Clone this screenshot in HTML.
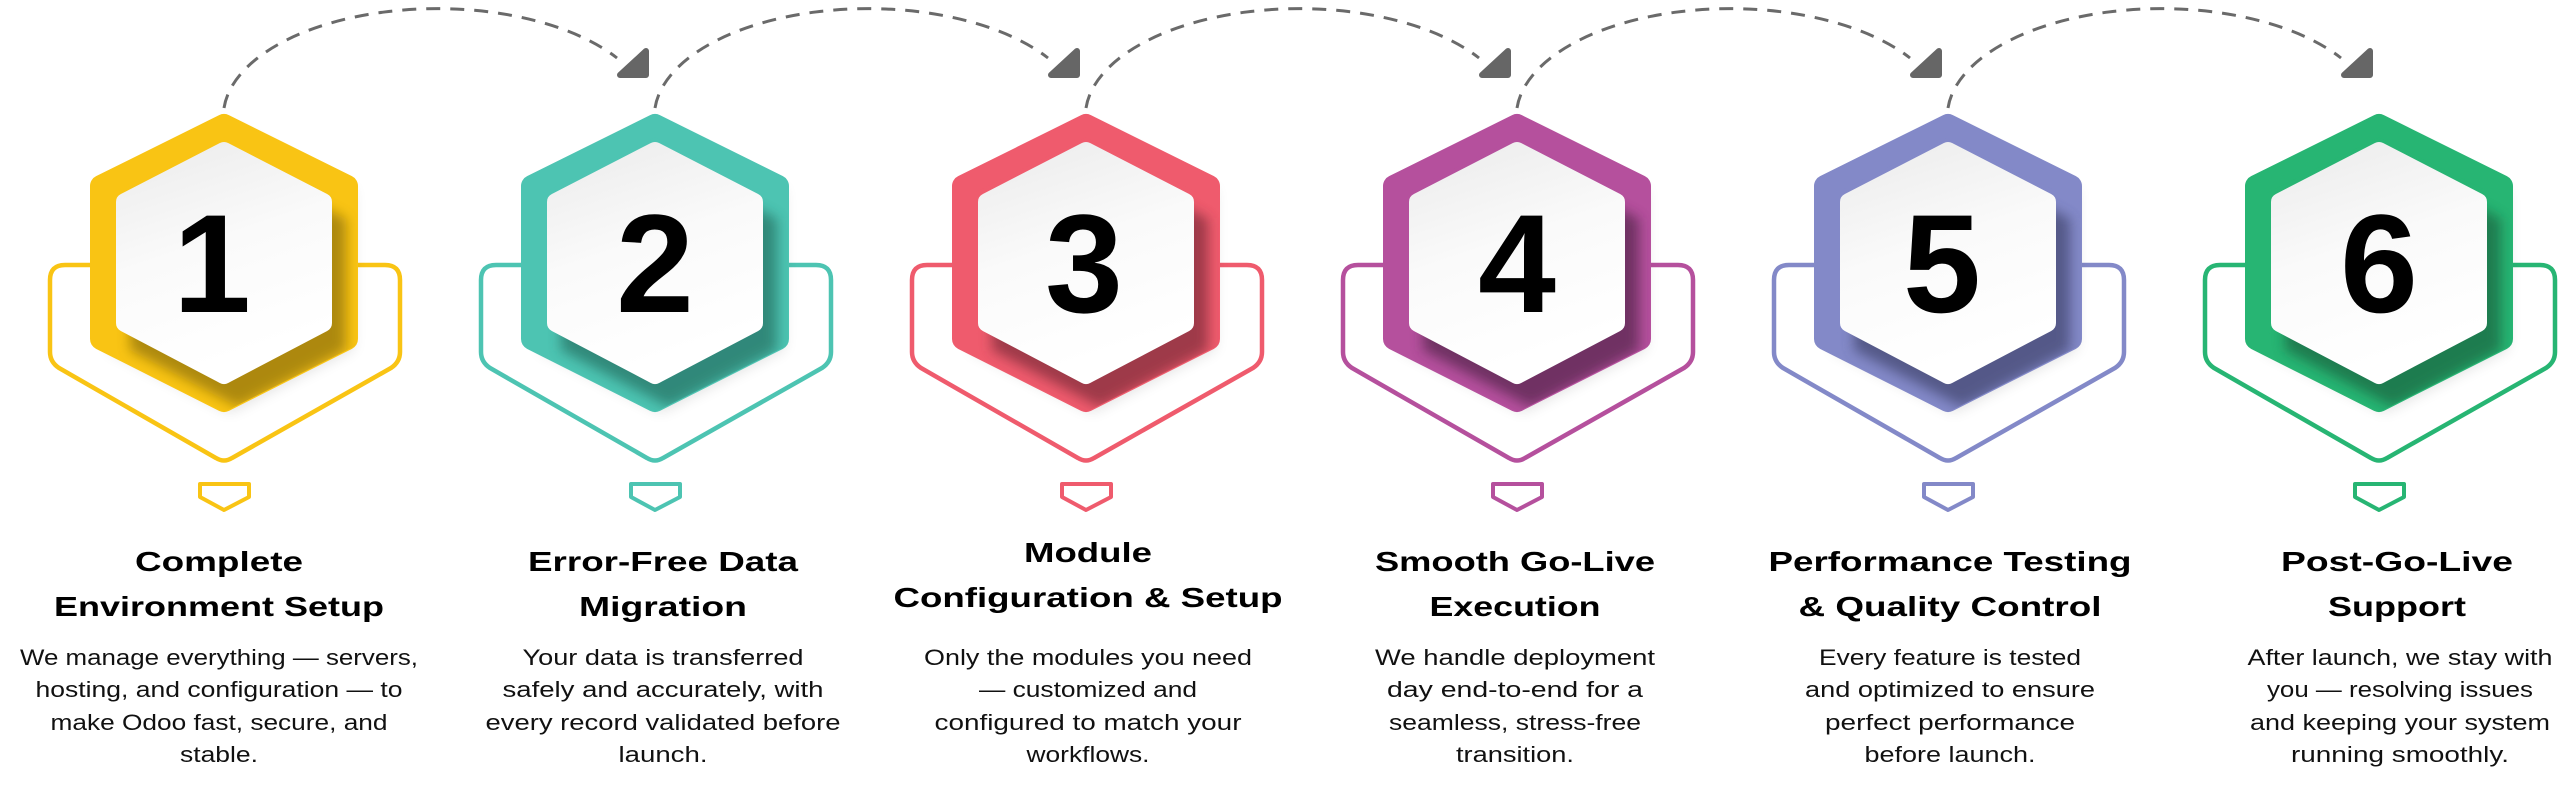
<!DOCTYPE html>
<html><head><meta charset="utf-8"><style>
html,body{margin:0;padding:0;background:#fff;}
svg{display:block;}
.t{font-family:"Liberation Sans",Arial,sans-serif;font-weight:bold;font-size:28px;fill:#000;text-anchor:middle;}
.b{font-family:"Liberation Sans",Arial,sans-serif;font-size:22px;fill:#111;text-anchor:middle;}
.n{font-family:"Liberation Sans",Arial,sans-serif;font-weight:bold;font-size:140px;fill:#000;text-anchor:middle;}
.arc{fill:none;stroke:#6a6a6a;stroke-width:3;stroke-dasharray:14 10;}
.ah{fill:#666;stroke:#666;stroke-width:6;stroke-linejoin:round;}
</style></head><body>
<svg width="2560" height="786" viewBox="0 0 2560 786" xmlns="http://www.w3.org/2000/svg">
<defs>
<filter id="bl" x="-30%" y="-30%" width="160%" height="160%"><feGaussianBlur stdDeviation="6"/></filter>
<filter id="ds" x="-30%" y="-30%" width="160%" height="160%"><feGaussianBlur stdDeviation="7"/></filter>
<clipPath id="oc"><polygon points="0,114 133,180 133,345 0,412 -133,345 -133,180"/></clipPath>
<linearGradient id="wg" x1="0" y1="0" x2="0.3" y2="1"><stop offset="0" stop-color="#ececec"/><stop offset="0.5" stop-color="#fafafa"/><stop offset="1" stop-color="#ffffff"/></linearGradient>
<g id="inner">
<polygon points="0,151 99,202 99,323 0,375 -99,323 -99,202" fill="url(#wg)" stroke="url(#wg)" stroke-width="18" stroke-linejoin="round"/>
</g>
</defs>

<g>
<path class="arc" d="M224 108 A214 108 0 0 1 617 58"/>
<polygon class="ah" points="646,51 646,75 620,75"/>
<path class="arc" d="M655 108 A214 108 0 0 1 1048 58"/>
<polygon class="ah" points="1077,51 1077,75 1051,75"/>
<path class="arc" d="M1086 108 A214 108 0 0 1 1479 58"/>
<polygon class="ah" points="1508,51 1508,75 1482,75"/>
<path class="arc" d="M1517 108 A214 108 0 0 1 1910 58"/>
<polygon class="ah" points="1939,51 1939,75 1913,75"/>
<path class="arc" d="M1948 108 A214 108 0 0 1 2341 58"/>
<polygon class="ah" points="2370,51 2370,75 2344,75"/>
</g>

<g transform="translate(224,0)">
<path d="M -133 265 H -159 Q -174 265 -174 280 V 352 Q -174 362 -165 368 L -8 458 Q 0 463 8 458 L 167 368 Q 176 362 176 352 V 280 Q 176 265 161 265 H 133" fill="none" stroke="#F9C414" stroke-width="4.5"/>
<polygon points="6,128 129,190 129,349 6,412 -117,349" fill="#000" opacity="0.12" filter="url(#ds)"/>
<polygon points="0,125 123,186 123,339 0,401 -123,339 -123,186" fill="#F9C414" stroke="#F9C414" stroke-width="22" stroke-linejoin="round"/>
<g clip-path="url(#oc)"><polygon points="14,163 122,219 122,350 14,407 -94,350 -94,219" fill="#9a7a10" opacity="0.8" filter="url(#bl)"/></g>
<use href="#inner"/>
<text class="n" x="-12" y="312">1</text>
<path d="M -24 484 H 25 V 497 L 0 510 L -24 497 Z" fill="none" stroke="#F9C414" stroke-width="4" stroke-linejoin="round"/>
</g>

<g transform="translate(655,0)">
<path d="M -133 265 H -159 Q -174 265 -174 280 V 352 Q -174 362 -165 368 L -8 458 Q 0 463 8 458 L 167 368 Q 176 362 176 352 V 280 Q 176 265 161 265 H 133" fill="none" stroke="#4DC4B2" stroke-width="4.5"/>
<polygon points="6,128 129,190 129,349 6,412 -117,349" fill="#000" opacity="0.12" filter="url(#ds)"/>
<polygon points="0,125 123,186 123,339 0,401 -123,339 -123,186" fill="#4DC4B2" stroke="#4DC4B2" stroke-width="22" stroke-linejoin="round"/>
<g clip-path="url(#oc)"><polygon points="14,163 122,219 122,350 14,407 -94,350 -94,219" fill="#2a7a6c" opacity="0.8" filter="url(#bl)"/></g>
<use href="#inner"/>
<text class="n" x="0" y="312">2</text>
<path d="M -24 484 H 25 V 497 L 0 510 L -24 497 Z" fill="none" stroke="#4DC4B2" stroke-width="4" stroke-linejoin="round"/>
</g>

<g transform="translate(1086,0)">
<path d="M -133 265 H -159 Q -174 265 -174 280 V 352 Q -174 362 -165 368 L -8 458 Q 0 463 8 458 L 167 368 Q 176 362 176 352 V 280 Q 176 265 161 265 H 133" fill="none" stroke="#EF5B6D" stroke-width="4.5"/>
<polygon points="6,128 129,190 129,349 6,412 -117,349" fill="#000" opacity="0.12" filter="url(#ds)"/>
<polygon points="0,125 123,186 123,339 0,401 -123,339 -123,186" fill="#EF5B6D" stroke="#EF5B6D" stroke-width="22" stroke-linejoin="round"/>
<g clip-path="url(#oc)"><polygon points="14,163 122,219 122,350 14,407 -94,350 -94,219" fill="#8a3340" opacity="0.8" filter="url(#bl)"/></g>
<use href="#inner"/>
<text class="n" x="-2" y="312">3</text>
<path d="M -24 484 H 25 V 497 L 0 510 L -24 497 Z" fill="none" stroke="#EF5B6D" stroke-width="4" stroke-linejoin="round"/>
</g>

<g transform="translate(1517,0)">
<path d="M -133 265 H -159 Q -174 265 -174 280 V 352 Q -174 362 -165 368 L -8 458 Q 0 463 8 458 L 167 368 Q 176 362 176 352 V 280 Q 176 265 161 265 H 133" fill="none" stroke="#B5509D" stroke-width="4.5"/>
<polygon points="6,128 129,190 129,349 6,412 -117,349" fill="#000" opacity="0.12" filter="url(#ds)"/>
<polygon points="0,125 123,186 123,339 0,401 -123,339 -123,186" fill="#B5509D" stroke="#B5509D" stroke-width="22" stroke-linejoin="round"/>
<g clip-path="url(#oc)"><polygon points="14,163 122,219 122,350 14,407 -94,350 -94,219" fill="#5e2a55" opacity="0.8" filter="url(#bl)"/></g>
<use href="#inner"/>
<text class="n" x="0" y="312">4</text>
<path d="M -24 484 H 25 V 497 L 0 510 L -24 497 Z" fill="none" stroke="#B5509D" stroke-width="4" stroke-linejoin="round"/>
</g>

<g transform="translate(1948,0)">
<path d="M -133 265 H -159 Q -174 265 -174 280 V 352 Q -174 362 -165 368 L -8 458 Q 0 463 8 458 L 167 368 Q 176 362 176 352 V 280 Q 176 265 161 265 H 133" fill="none" stroke="#8389C8" stroke-width="4.5"/>
<polygon points="6,128 129,190 129,349 6,412 -117,349" fill="#000" opacity="0.12" filter="url(#ds)"/>
<polygon points="0,125 123,186 123,339 0,401 -123,339 -123,186" fill="#8389C8" stroke="#8389C8" stroke-width="22" stroke-linejoin="round"/>
<g clip-path="url(#oc)"><polygon points="14,163 122,219 122,350 14,407 -94,350 -94,219" fill="#4a4e78" opacity="0.8" filter="url(#bl)"/></g>
<use href="#inner"/>
<text class="n" x="-6" y="312">5</text>
<path d="M -24 484 H 25 V 497 L 0 510 L -24 497 Z" fill="none" stroke="#8389C8" stroke-width="4" stroke-linejoin="round"/>
</g>

<g transform="translate(2379,0)">
<path d="M -133 265 H -159 Q -174 265 -174 280 V 352 Q -174 362 -165 368 L -8 458 Q 0 463 8 458 L 167 368 Q 176 362 176 352 V 280 Q 176 265 161 265 H 133" fill="none" stroke="#27B573" stroke-width="4.5"/>
<polygon points="6,128 129,190 129,349 6,412 -117,349" fill="#000" opacity="0.12" filter="url(#ds)"/>
<polygon points="0,125 123,186 123,339 0,401 -123,339 -123,186" fill="#27B573" stroke="#27B573" stroke-width="22" stroke-linejoin="round"/>
<g clip-path="url(#oc)"><polygon points="14,163 122,219 122,350 14,407 -94,350 -94,219" fill="#1a6e47" opacity="0.8" filter="url(#bl)"/></g>
<use href="#inner"/>
<text class="n" x="0" y="312">6</text>
<path d="M -24 484 H 25 V 497 L 0 510 L -24 497 Z" fill="none" stroke="#27B573" stroke-width="4" stroke-linejoin="round"/>
</g>

<text class="t" x="219" y="571" textLength="168" lengthAdjust="spacingAndGlyphs">Complete</text>
<text class="t" x="219" y="616" textLength="330" lengthAdjust="spacingAndGlyphs">Environment Setup</text>
<text class="b" x="219" y="665" textLength="398" lengthAdjust="spacingAndGlyphs">We manage everything — servers,</text>
<text class="b" x="219" y="697" textLength="367" lengthAdjust="spacingAndGlyphs">hosting, and configuration — to</text>
<text class="b" x="219" y="730" textLength="337" lengthAdjust="spacingAndGlyphs">make Odoo fast, secure, and</text>
<text class="b" x="219" y="762" textLength="78" lengthAdjust="spacingAndGlyphs">stable.</text>

<text class="t" x="663" y="571" textLength="270" lengthAdjust="spacingAndGlyphs">Error-Free Data</text>
<text class="t" x="663" y="616" textLength="168" lengthAdjust="spacingAndGlyphs">Migration</text>
<text class="b" x="663" y="665" textLength="281" lengthAdjust="spacingAndGlyphs">Your data is transferred</text>
<text class="b" x="663" y="697" textLength="321" lengthAdjust="spacingAndGlyphs">safely and accurately, with</text>
<text class="b" x="663" y="730" textLength="355" lengthAdjust="spacingAndGlyphs">every record validated before</text>
<text class="b" x="663" y="762" textLength="89" lengthAdjust="spacingAndGlyphs">launch.</text>

<text class="t" x="1088" y="562" textLength="128" lengthAdjust="spacingAndGlyphs">Module</text>
<text class="t" x="1088" y="607" textLength="389" lengthAdjust="spacingAndGlyphs">Configuration &amp; Setup</text>
<text class="b" x="1088" y="665" textLength="328" lengthAdjust="spacingAndGlyphs">Only the modules you need</text>
<text class="b" x="1088" y="697" textLength="218" lengthAdjust="spacingAndGlyphs">— customized and</text>
<text class="b" x="1088" y="730" textLength="307" lengthAdjust="spacingAndGlyphs">configured to match your</text>
<text class="b" x="1088" y="762" textLength="123" lengthAdjust="spacingAndGlyphs">workflows.</text>

<text class="t" x="1515" y="571" textLength="280" lengthAdjust="spacingAndGlyphs">Smooth Go-Live</text>
<text class="t" x="1515" y="616" textLength="171" lengthAdjust="spacingAndGlyphs">Execution</text>
<text class="b" x="1515" y="665" textLength="280" lengthAdjust="spacingAndGlyphs">We handle deployment</text>
<text class="b" x="1515" y="697" textLength="256" lengthAdjust="spacingAndGlyphs">day end-to-end for a</text>
<text class="b" x="1515" y="730" textLength="252" lengthAdjust="spacingAndGlyphs">seamless, stress-free</text>
<text class="b" x="1515" y="762" textLength="118" lengthAdjust="spacingAndGlyphs">transition.</text>

<text class="t" x="1950" y="571" textLength="363" lengthAdjust="spacingAndGlyphs">Performance Testing</text>
<text class="t" x="1950" y="616" textLength="303" lengthAdjust="spacingAndGlyphs">&amp; Quality Control</text>
<text class="b" x="1950" y="665" textLength="262" lengthAdjust="spacingAndGlyphs">Every feature is tested</text>
<text class="b" x="1950" y="697" textLength="290" lengthAdjust="spacingAndGlyphs">and optimized to ensure</text>
<text class="b" x="1950" y="730" textLength="250" lengthAdjust="spacingAndGlyphs">perfect performance</text>
<text class="b" x="1950" y="762" textLength="171" lengthAdjust="spacingAndGlyphs">before launch.</text>

<text class="t" x="2397" y="571" textLength="232" lengthAdjust="spacingAndGlyphs">Post-Go-Live</text>
<text class="t" x="2397" y="616" textLength="138" lengthAdjust="spacingAndGlyphs">Support</text>
<text class="b" x="2400" y="665" textLength="305" lengthAdjust="spacingAndGlyphs">After launch, we stay with</text>
<text class="b" x="2400" y="697" textLength="266" lengthAdjust="spacingAndGlyphs">you — resolving issues</text>
<text class="b" x="2400" y="730" textLength="300" lengthAdjust="spacingAndGlyphs">and keeping your system</text>
<text class="b" x="2400" y="762" textLength="218" lengthAdjust="spacingAndGlyphs">running smoothly.</text>
</svg>
</body></html>
